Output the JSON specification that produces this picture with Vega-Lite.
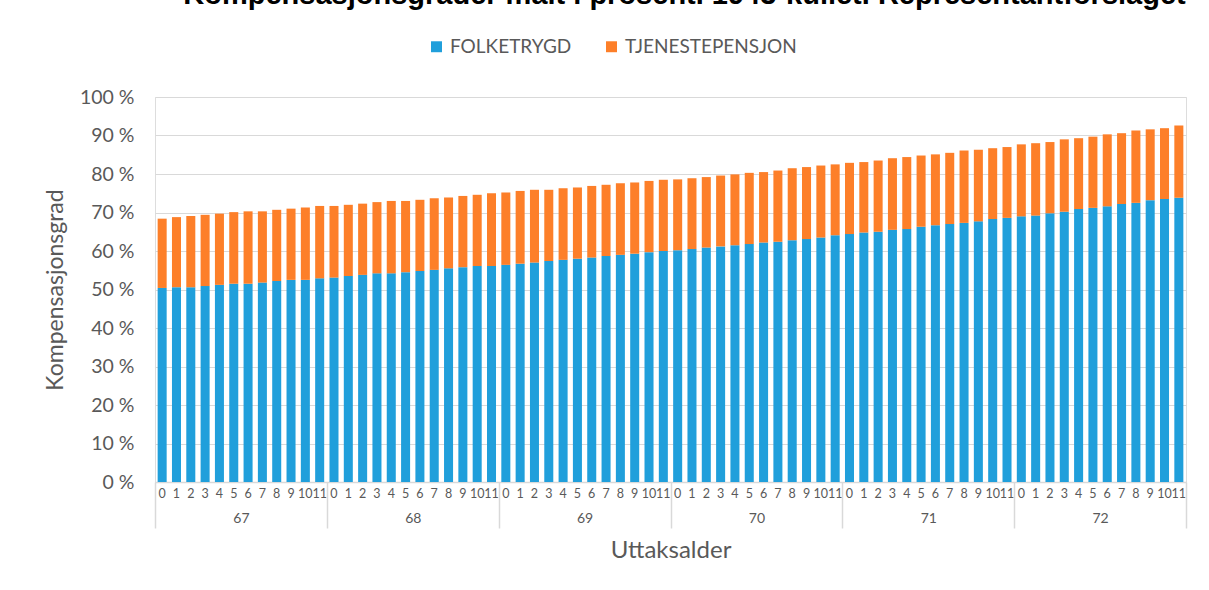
{
  "$schema": "https://vega.github.io/schema/vega-lite/v6.json",
  "width": 1031,
  "height": 385,
  "autosize": {"type": "none"},
  "padding": {"left": 155, "top": 97, "right": 23, "bottom": 108},
  "background": "white",
  "title": {
    "text": "Kompensasjonsgrader målt i prosent. 1943-kullet. Representantforslaget",
    "font": "Liberation Sans",
    "fontSize": 29,
    "fontWeight": "bold",
    "color": "#000000",
    "anchor": "middle",
    "dx": 14,
    "offset": 27
  },
  "data": {
    "values": [
      {"i":0,"age":67,"F":50.4,"T":18.0},{"i":1,"age":67,"F":50.6,"T":18.2},{"i":2,"age":67,"F":50.6,"T":18.5},{"i":3,"age":67,"F":50.9,"T":18.5},
      {"i":4,"age":67,"F":51.2,"T":18.5},{"i":5,"age":67,"F":51.5,"T":18.6},{"i":6,"age":67,"F":51.5,"T":18.8},{"i":7,"age":67,"F":51.8,"T":18.5},
      {"i":8,"age":67,"F":52.2,"T":18.5},{"i":9,"age":67,"F":52.5,"T":18.5},{"i":10,"age":67,"F":52.5,"T":18.8},{"i":11,"age":67,"F":52.9,"T":18.8},
      {"i":12,"age":68,"F":53.1,"T":18.6},{"i":13,"age":68,"F":53.5,"T":18.5},{"i":14,"age":68,"F":53.8,"T":18.5},{"i":15,"age":68,"F":54.2,"T":18.5},
      {"i":16,"age":68,"F":54.2,"T":18.8},{"i":17,"age":68,"F":54.5,"T":18.5},{"i":18,"age":68,"F":54.8,"T":18.5},{"i":19,"age":68,"F":55.1,"T":18.6},
      {"i":20,"age":68,"F":55.5,"T":18.4},{"i":21,"age":68,"F":55.8,"T":18.5},{"i":22,"age":68,"F":56.1,"T":18.5},{"i":23,"age":68,"F":56.1,"T":18.9},
      {"i":24,"age":69,"F":56.4,"T":18.8},{"i":25,"age":69,"F":56.7,"T":18.9},{"i":26,"age":69,"F":57.0,"T":18.9},{"i":27,"age":69,"F":57.4,"T":18.5},
      {"i":28,"age":69,"F":57.7,"T":18.6},{"i":29,"age":69,"F":58.0,"T":18.5},{"i":30,"age":69,"F":58.3,"T":18.6},{"i":31,"age":69,"F":58.7,"T":18.5},
      {"i":32,"age":69,"F":59.0,"T":18.6},{"i":33,"age":69,"F":59.3,"T":18.5},{"i":34,"age":69,"F":59.7,"T":18.5},{"i":35,"age":69,"F":60.0,"T":18.5},
      {"i":36,"age":70,"F":60.2,"T":18.4},{"i":37,"age":70,"F":60.5,"T":18.4},{"i":38,"age":70,"F":60.9,"T":18.3},{"i":39,"age":70,"F":61.2,"T":18.4},
      {"i":40,"age":70,"F":61.5,"T":18.4},{"i":41,"age":70,"F":61.8,"T":18.5},{"i":42,"age":70,"F":62.2,"T":18.3},{"i":43,"age":70,"F":62.4,"T":18.5},
      {"i":44,"age":70,"F":62.8,"T":18.7},{"i":45,"age":70,"F":63.1,"T":18.7},{"i":46,"age":70,"F":63.5,"T":18.7},{"i":47,"age":70,"F":64.1,"T":18.4},
      {"i":48,"age":71,"F":64.4,"T":18.5},{"i":49,"age":71,"F":64.8,"T":18.3},{"i":50,"age":71,"F":65.0,"T":18.5},{"i":51,"age":71,"F":65.5,"T":18.6},
      {"i":52,"age":71,"F":65.7,"T":18.7},{"i":53,"age":71,"F":66.3,"T":18.5},{"i":54,"age":71,"F":66.7,"T":18.4},{"i":55,"age":71,"F":67.0,"T":18.5},
      {"i":56,"age":71,"F":67.3,"T":18.8},{"i":57,"age":71,"F":67.7,"T":18.6},{"i":58,"age":71,"F":68.3,"T":18.4},{"i":59,"age":71,"F":68.6,"T":18.4},
      {"i":60,"age":72,"F":69.0,"T":18.7},{"i":61,"age":72,"F":69.2,"T":18.8},{"i":62,"age":72,"F":69.8,"T":18.5},{"i":63,"age":72,"F":70.2,"T":18.8},
      {"i":64,"age":72,"F":70.9,"T":18.4},{"i":65,"age":72,"F":71.2,"T":18.5},{"i":66,"age":72,"F":71.6,"T":18.7},{"i":67,"age":72,"F":72.2,"T":18.4},
      {"i":68,"age":72,"F":72.5,"T":18.8},{"i":69,"age":72,"F":73.2,"T":18.4},{"i":70,"age":72,"F":73.5,"T":18.4},{"i":71,"age":72,"F":73.8,"T":18.8}
    ]
  },
  "layer": [
    {
      "transform": [
        {"fold": ["F", "T"], "as": ["key", "value"]},
        {"lookup": "key", "from": {"data": {"values": [{"key": "F", "serie": "FOLKETRYGD"}, {"key": "T", "serie": "TJENESTEPENSJON"}]}, "key": "key", "fields": ["serie"]}}
      ],
      "mark": {"type": "bar"},
      "encoding": {
        "x": {
          "field": "i",
          "type": "ordinal",
          "scale": {"paddingInner": 0.37, "paddingOuter": 0.185},
          "axis": {
            "orient": "bottom",
            "title": null,
            "domain": false,
            "ticks": false,
            "labelAngle": 0,
            "labelPadding": 5,
            "labelOverlap": false,
            "labelFont": "Lato",
            "labelFontSize": 12.5,
            "labelColor": "#595959",
            "labelExpr": "datum.value % 12"
          }
        },
        "y": {
          "field": "value",
          "type": "quantitative",
          "stack": "zero",
          "scale": {"domain": [0, 100], "nice": false},
          "axis": {
            "values": [0, 10, 20, 30, 40, 50, 60, 70, 80, 90, 100],
            "labelExpr": "datum.value + ' %'",
            "title": "Kompensasjonsgrad",
            "titleFont": "Lato",
            "titleFontSize": 23,
            "titleFontWeight": "normal",
            "titleColor": "#595959",
            "titlePadding": 12,
            "labelFont": "Lato",
            "labelFontSize": 19.5,
            "labelColor": "#595959",
            "labelPadding": 21,
            "domain": false,
            "ticks": false,
            "grid": true,
            "gridColor": "#d9d9d9",
            "gridWidth": 1
          }
        },
        "color": {
          "field": "serie",
          "type": "nominal",
          "scale": {"domain": ["FOLKETRYGD", "TJENESTEPENSJON"], "range": ["#209fdb", "#fd7f29"]},
          "legend": {
            "orient": "none",
            "legendX": 272,
            "legendY": -60,
            "direction": "horizontal",
            "title": null,
            "symbolType": "square",
            "symbolSize": 120,
            "symbolStrokeWidth": 0,
            "labelFont": "Lato",
            "labelFontSize": 19,
            "labelLimit": 400,
            "labelColor": "#595959",
            "columnPadding": 30
          }
        },
        "order": {"field": "key", "type": "nominal"}
      }
    },
    {
      "mark": {"type": "rule", "opacity": 0},
      "encoding": {
        "x": {
          "field": "age",
          "type": "ordinal",
          "scale": {"type": "band", "paddingInner": 0, "paddingOuter": 0},
          "axis": {
            "orient": "bottom",
            "title": "Uttaksalder",
            "titleFont": "Lato",
            "titleFontSize": 24,
            "titleFontWeight": "normal",
            "titleColor": "#595959",
            "titlePadding": 10,
            "domain": true,
            "domainColor": "#d9d9d9",
            "domainWidth": 1.5,
            "ticks": true,
            "tickBand": "extent",
            "tickColor": "#d9d9d9",
            "tickWidth": 1.5,
            "tickSize": 46,
            "labelPadding": -17,
            "labelAngle": 0,
            "labelFont": "Lato",
            "labelFontSize": 14,
            "labelColor": "#595959",
            "grid": false
          }
        }
      }
    }
  ],
  "resolve": {"scale": {"x": "independent"}, "axis": {"x": "independent"}}
}
